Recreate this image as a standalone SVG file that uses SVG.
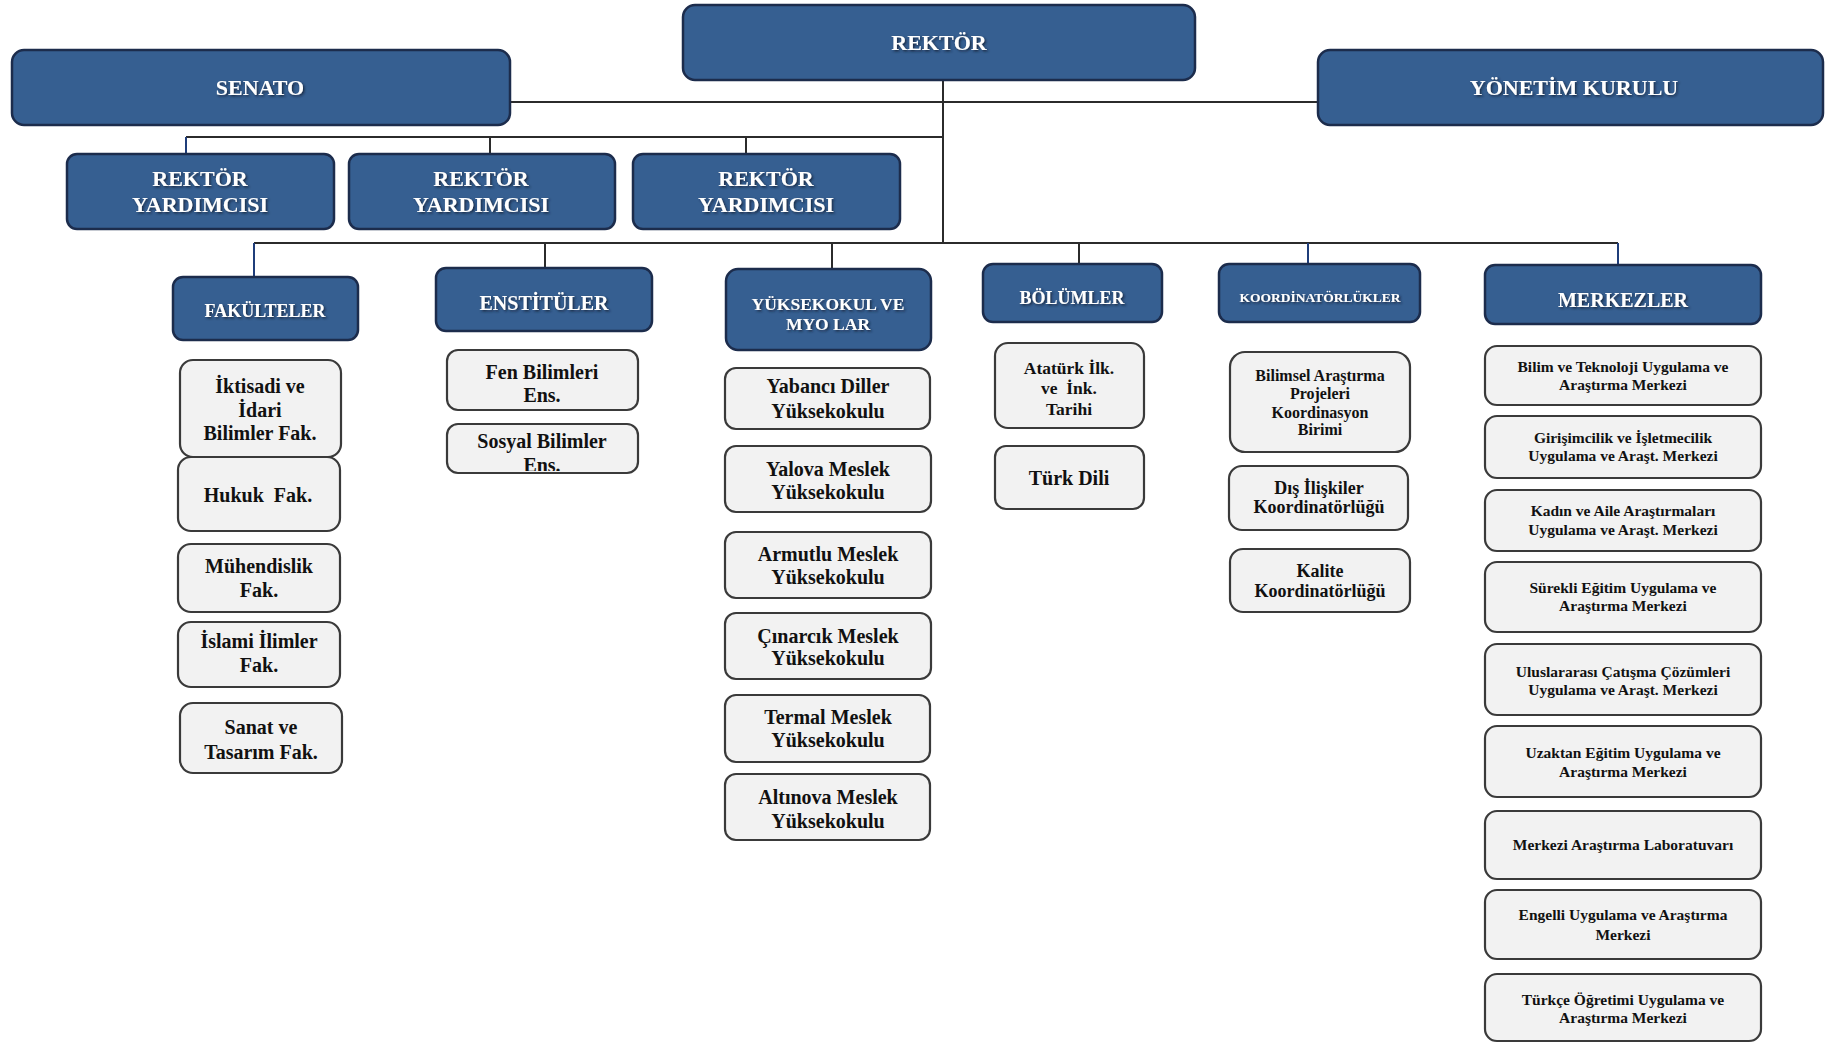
<svg xmlns="http://www.w3.org/2000/svg" width="1825" height="1043" viewBox="0 0 1825 1043">
<style>
.hb{fill:#365f91;stroke:#1c2c4c;stroke-width:2.5}
.wb{fill:#f2f2f2;stroke:#3a3a3a;stroke-width:2.2}
.ht{font-family:"Liberation Serif","Times New Roman",serif;font-weight:bold;fill:#ffffff;text-anchor:middle;filter:url(#sh)}
.wt{font-family:"Liberation Serif","Times New Roman",serif;font-weight:bold;fill:#111111;text-anchor:middle}
.pre{white-space:pre}
.ln{stroke:#2b2b2b;stroke-width:2;fill:none}
.lb{stroke:#1f3d7a;stroke-width:2;fill:none}
</style>
<defs>
<filter id="sh" x="-10%" y="-30%" width="120%" height="160%">
<feDropShadow dx="1.5" dy="1.5" stdDeviation="0.8" flood-color="#15233a" flood-opacity="0.9"/>
</filter>
<clipPath id="clipSos"><rect x="447" y="424" width="191" height="47"/></clipPath>
</defs>
<rect width="1825" height="1043" fill="#ffffff"/>

<g id="connectors">
<line class="ln" x1="510" y1="102" x2="1318" y2="102"/>
<line class="ln" x1="943" y1="80" x2="943" y2="244"/>
<line class="ln" x1="186" y1="137" x2="943" y2="137"/>
<line class="lb" x1="186" y1="137" x2="186" y2="154"/>
<line class="ln" x1="490" y1="137" x2="490" y2="154"/>
<line class="ln" x1="746" y1="137" x2="746" y2="154"/>
<line class="ln" x1="254" y1="243" x2="1618" y2="243"/>
<line class="lb" x1="254" y1="243" x2="254" y2="277"/>
<line class="ln" x1="545" y1="243" x2="545" y2="268"/>
<line class="ln" x1="832" y1="243" x2="832" y2="269"/>
<line class="ln" x1="1079" y1="243" x2="1079" y2="264"/>
<line class="lb" x1="1308" y1="243" x2="1308" y2="264"/>
<line class="lb" x1="1618" y1="243" x2="1618" y2="265"/>
</g>

<g id="rektor"><rect class="hb" x="683" y="5" width="512" height="75" rx="12"/><text class="ht" x="939" y="50" font-size="22">REKTÖR</text></g>
<g id="senato"><rect class="hb" x="12" y="50" width="498" height="75" rx="12"/><text class="ht" x="260" y="95" font-size="22">SENATO</text></g>
<g id="yonetim"><rect class="hb" x="1318" y="50" width="505" height="75" rx="12"/><text class="ht" x="1574" y="95" font-size="22">YÖNETİM KURULU</text></g>

<g id="ry1"><rect class="hb" x="67" y="154" width="267" height="75" rx="10"/><text class="ht" x="200" y="186" font-size="22">REKTÖR</text><text class="ht" x="200" y="212" font-size="22">YARDIMCISI</text></g>
<g id="ry2"><rect class="hb" x="349" y="154" width="266" height="75" rx="10"/><text class="ht" x="481" y="186" font-size="22">REKTÖR</text><text class="ht" x="481" y="212" font-size="22">YARDIMCISI</text></g>
<g id="ry3"><rect class="hb" x="633" y="154" width="267" height="75" rx="10"/><text class="ht" x="766" y="186" font-size="22">REKTÖR</text><text class="ht" x="766" y="212" font-size="22">YARDIMCISI</text></g>

<g id="fakulteler"><rect class="hb" x="173" y="277" width="185" height="63" rx="10"/><text class="ht" x="265" y="317" font-size="18">FAKÜLTELER</text></g>
<g id="enstituler"><rect class="hb" x="436" y="268" width="216" height="63" rx="10"/><text class="ht" x="544" y="310" font-size="20">ENSTİTÜLER</text></g>
<g id="yuksekokul"><rect class="hb" x="726" y="269" width="205" height="81" rx="12"/><text class="ht" x="828" y="310" font-size="17.5">YÜKSEKOKUL VE</text><text class="ht" x="828" y="330" font-size="17.5">MYO LAR</text></g>
<g id="bolumler"><rect class="hb" x="983" y="264" width="179" height="58" rx="10"/><text class="ht" x="1072" y="304" font-size="18">BÖLÜMLER</text></g>
<g id="koordinatorlukler"><rect class="hb" x="1219" y="264" width="201" height="58" rx="10"/><text class="ht" x="1320" y="302" font-size="13.5">KOORDİNATÖRLÜKLER</text></g>
<g id="merkezler"><rect class="hb" x="1485" y="265" width="276" height="59" rx="10"/><text class="ht" x="1623" y="307" font-size="20">MERKEZLER</text></g>

<g id="iktisadi"><rect class="wb" x="180" y="360" width="161" height="97" rx="13"/><text class="wt" x="260" y="393" font-size="20">İktisadi ve</text><text class="wt" x="260" y="417" font-size="20">İdari</text><text class="wt" x="260" y="440" font-size="20">Bilimler Fak.</text></g>
<g id="hukuk"><rect class="wb" x="178" y="457" width="162" height="74" rx="13"/><text class="wt pre" x="258" y="502" font-size="20">Hukuk  Fak.</text></g>
<g id="muhendislik"><rect class="wb" x="178" y="544" width="162" height="68" rx="13"/><text class="wt" x="259" y="573" font-size="20">Mühendislik</text><text class="wt" x="259" y="597" font-size="20">Fak.</text></g>
<g id="islami"><rect class="wb" x="178" y="622" width="162" height="65" rx="13"/><text class="wt" x="259" y="648" font-size="20">İslami İlimler</text><text class="wt" x="259" y="672" font-size="20">Fak.</text></g>
<g id="sanat"><rect class="wb" x="180" y="703" width="162" height="70" rx="13"/><text class="wt" x="261" y="734" font-size="20">Sanat ve</text><text class="wt" x="261" y="759" font-size="20">Tasarım Fak.</text></g>

<g id="fen"><rect class="wb" x="447" y="350" width="191" height="60" rx="11"/><text class="wt" x="542" y="379" font-size="20">Fen Bilimleri</text><text class="wt" x="542" y="402" font-size="20">Ens.</text></g>
<g id="sosyal"><rect class="wb" x="447" y="424" width="191" height="49" rx="11"/><g clip-path="url(#clipSos)"><text class="wt" x="542" y="448" font-size="20">Sosyal Bilimler</text><text class="wt" x="542" y="472" font-size="20">Ens.</text></g></g>

<g id="yabanci"><rect class="wb" x="725" y="368" width="205" height="61" rx="11"/><text class="wt" x="828" y="393" font-size="20">Yabancı Diller</text><text class="wt" x="828" y="418" font-size="20">Yüksekokulu</text></g>
<g id="yalova"><rect class="wb" x="725" y="446" width="206" height="66" rx="11"/><text class="wt" x="828" y="476" font-size="20">Yalova Meslek</text><text class="wt" x="828" y="499" font-size="20">Yüksekokulu</text></g>
<g id="armutlu"><rect class="wb" x="725" y="532" width="206" height="66" rx="11"/><text class="wt" x="828" y="561" font-size="20">Armutlu Meslek</text><text class="wt" x="828" y="584" font-size="20">Yüksekokulu</text></g>
<g id="cinarcik"><rect class="wb" x="725" y="613" width="206" height="66" rx="11"/><text class="wt" x="828" y="643" font-size="20">Çınarcık Meslek</text><text class="wt" x="828" y="665" font-size="20">Yüksekokulu</text></g>
<g id="termal"><rect class="wb" x="725" y="695" width="205" height="67" rx="11"/><text class="wt" x="828" y="724" font-size="20">Termal Meslek</text><text class="wt" x="828" y="747" font-size="20">Yüksekokulu</text></g>
<g id="altinova"><rect class="wb" x="725" y="774" width="205" height="66" rx="11"/><text class="wt" x="828" y="804" font-size="20">Altınova Meslek</text><text class="wt" x="828" y="828" font-size="20">Yüksekokulu</text></g>

<g id="ataturk"><rect class="wb" x="995" y="343" width="149" height="85" rx="13"/><text class="wt" x="1069" y="374" font-size="17.5">Atatürk İlk.</text><text class="wt pre" x="1069" y="394" font-size="17.5">ve  İnk.</text><text class="wt" x="1069" y="415" font-size="17.5">Tarihi</text></g>
<g id="turkdili"><rect class="wb" x="995" y="446" width="149" height="63" rx="11"/><text class="wt" x="1069" y="485" font-size="20">Türk Dili</text></g>

<g id="bap"><rect class="wb" x="1230" y="352" width="180" height="100" rx="15"/><text class="wt" x="1320" y="381" font-size="16">Bilimsel Araştırma</text><text class="wt" x="1320" y="399" font-size="16">Projeleri</text><text class="wt" x="1320" y="418" font-size="16">Koordinasyon</text><text class="wt" x="1320" y="435" font-size="16">Birimi</text></g>
<g id="disiliskiler"><rect class="wb" x="1229" y="466" width="179" height="64" rx="13"/><text class="wt" x="1319" y="494" font-size="18">Dış İlişkiler</text><text class="wt" x="1319" y="513" font-size="18">Koordinatörlüğü</text></g>
<g id="kalite"><rect class="wb" x="1230" y="549" width="180" height="63" rx="13"/><text class="wt" x="1320" y="577" font-size="18">Kalite</text><text class="wt" x="1320" y="597" font-size="18">Koordinatörlüğü</text></g>

<g id="m1"><rect class="wb" x="1485" y="346" width="276" height="59" rx="12"/><text class="wt" x="1623" y="372" font-size="15.5">Bilim ve Teknoloji Uygulama ve</text><text class="wt" x="1623" y="390" font-size="15.5">Araştırma Merkezi</text></g>
<g id="m2"><rect class="wb" x="1485" y="416" width="276" height="62" rx="12"/><text class="wt" x="1623" y="443" font-size="15.5">Girişimcilik ve İşletmecilik</text><text class="wt" x="1623" y="461" font-size="15.5">Uygulama ve Araşt. Merkezi</text></g>
<g id="m3"><rect class="wb" x="1485" y="490" width="276" height="61" rx="12"/><text class="wt" x="1623" y="516" font-size="15.5">Kadın ve Aile Araştırmaları</text><text class="wt" x="1623" y="535" font-size="15.5">Uygulama ve Araşt. Merkezi</text></g>
<g id="m4"><rect class="wb" x="1485" y="562" width="276" height="70" rx="12"/><text class="wt" x="1623" y="593" font-size="15.5">Sürekli Eğitim Uygulama ve</text><text class="wt" x="1623" y="611" font-size="15.5">Araştırma Merkezi</text></g>
<g id="m5"><rect class="wb" x="1485" y="644" width="276" height="71" rx="12"/><text class="wt" x="1623" y="677" font-size="15.5">Uluslararası Çatışma Çözümleri</text><text class="wt" x="1623" y="695" font-size="15.5">Uygulama ve Araşt. Merkezi</text></g>
<g id="m6"><rect class="wb" x="1485" y="726" width="276" height="71" rx="12"/><text class="wt" x="1623" y="758" font-size="15.5">Uzaktan Eğitim Uygulama ve</text><text class="wt" x="1623" y="777" font-size="15.5">Araştırma Merkezi</text></g>
<g id="m7"><rect class="wb" x="1485" y="811" width="276" height="68" rx="12"/><text class="wt" x="1623" y="850" font-size="15.5">Merkezi Araştırma Laboratuvarı</text></g>
<g id="m8"><rect class="wb" x="1485" y="890" width="276" height="69" rx="12"/><text class="wt" x="1623" y="920" font-size="15.5">Engelli Uygulama ve Araştırma</text><text class="wt" x="1623" y="940" font-size="15.5">Merkezi</text></g>
<g id="m9"><rect class="wb" x="1485" y="974" width="276" height="67" rx="12"/><text class="wt" x="1623" y="1005" font-size="15.5">Türkçe Öğretimi Uygulama ve</text><text class="wt" x="1623" y="1023" font-size="15.5">Araştırma Merkezi</text></g>
</svg>
